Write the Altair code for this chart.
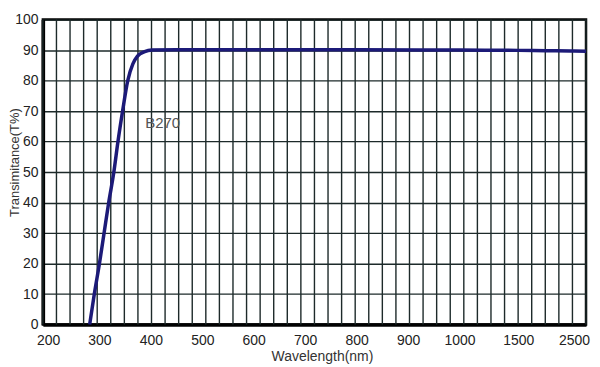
import altair as alt
import pandas as pd

# Curve of B270 glass transmittance
wavelength = [281, 290, 300, 309, 318, 328, 336, 345, 355, 365, 374, 388, 402, 450, 600, 800, 1000, 1500, 2000, 2500, 2710]
transmit = [0, 10, 20, 30, 40, 50, 60, 70, 80, 85.5, 88, 89.5, 90, 90.1, 90.1, 90.1, 90.0, 89.9, 89.8, 89.7, 89.6]

x_ticks = [200, 300, 400, 500, 600, 700, 800, 900, 1000, 1500, 2500]
y_ticks = [0, 10, 20, 30, 40, 50, 60, 70, 80, 90, 100]
grid_cols = list(range(41))

label_x = [423]
label_y = [66]
label_text = ["B270"]

FONT = "Liberation Sans"
GRID = "#1d2a2a"

curve_df = pd.DataFrame({"wl": wavelength, "t": transmit})
label_df = pd.DataFrame({"wl": label_x, "t": label_y, "txt": label_text})
grid_df = pd.DataFrame({"g": grid_cols})

xscale = alt.Scale(domain=[190, 1000, 1500, 2500, 2710], range=[0, 418, 477, 533, 545], nice=False, zero=False)
yscale = alt.Scale(domain=[0, 100], nice=False)

yaxis = alt.Axis(values=y_ticks, grid=True, gridColor=GRID, gridWidth=1.4, gridOpacity=1,
                 ticks=False, labelPadding=5, labelFontSize=14, labelColor="#222",
                 labelFont=FONT, domainColor="black", domainWidth=3.5,
                 title="Transimitance(T%)", titleFont=FONT, titleFontSize=13,
                 titleFontWeight="normal", titleColor="#333",
                 titleX=-28, titleY=143, titleBaseline="middle", titleAngle=270)

xaxis = alt.Axis(values=x_ticks, format="d", grid=False, ticks=False, labelPadding=9, labelFontSize=14,
                 labelColor="#222", labelFont=FONT, domainColor="black", domainWidth=3.5,
                 labelFlush=False, labelOverlap=False,
                 title="Wavelength(nm)", titleFont=FONT, titleFontSize=14,
                 titleFontWeight="normal", titleColor="#333",
                 titleX=280, titleY=32, titleBaseline="middle", titleAlign="center")

grid_layer = alt.Chart(grid_df).mark_rule(color=GRID, strokeWidth=1.4).encode(
    x=alt.X("g:Q", scale=alt.Scale(domain=[0, 40], nice=False), axis=None),
)

line = alt.Chart(curve_df).mark_line(color="#1c1a78", strokeWidth=3.5, interpolate="monotone").encode(
    x=alt.X("wl:Q", scale=xscale, axis=xaxis),
    y=alt.Y("t:Q", scale=yscale, axis=yaxis),
)

label = alt.Chart(label_df).mark_text(font=FONT, fontSize=15, color="#555", align="center", baseline="middle").encode(
    x=alt.X("wl:Q", scale=xscale, axis=xaxis),
    y=alt.Y("t:Q", scale=yscale, axis=yaxis),
    text="txt:N",
)

main = alt.layer(line, label)

chart = alt.layer(grid_layer, main).resolve_scale(x="independent").properties(
    width=545, height=306,
    autosize=alt.AutoSizeParams(type="none"),
    padding={"left": 35, "top": 11, "right": 6, "bottom": 45},
    background="white",
).configure_view(stroke="black", strokeWidth=2.5)

chart.save("out.html", embed_options={"renderer": "svg", "actions": False})
